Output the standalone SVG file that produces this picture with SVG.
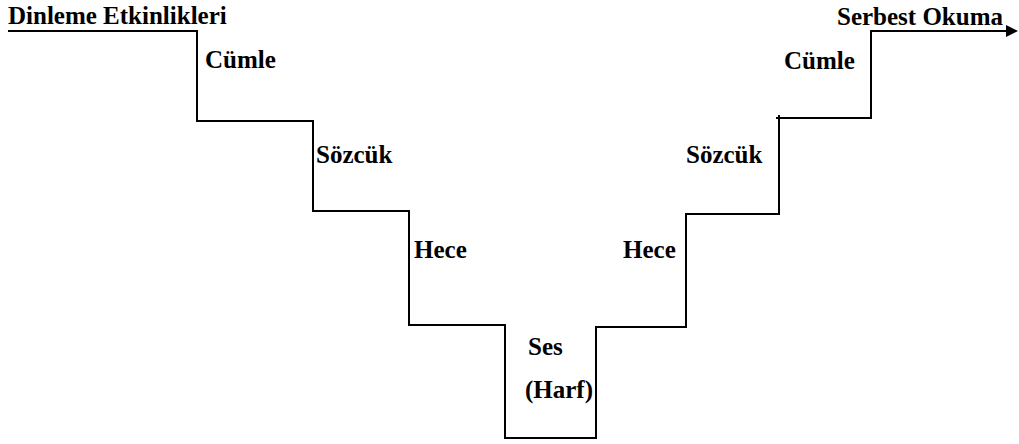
<svg xmlns="http://www.w3.org/2000/svg" width="1019" height="444" viewBox="0 0 1019 444">
<style>
.t{font-family:"Liberation Serif","Times New Roman",serif;font-weight:bold;font-size:25px;fill:#000}
.ln{fill:none;stroke:#000;stroke-width:2}
</style>
<defs>
<marker id="ah" viewBox="0 0 10 10" refX="0" refY="5" markerWidth="12" markerHeight="12" markerUnits="userSpaceOnUse" orient="auto">
<path d="M0,0 L10,5 L0,10 Z" fill="#000"/>
</marker>
</defs>
<rect width="1019" height="444" fill="#fff"/>
<g id="connectors">
<path class="ln" d="M8,31 H197 V121 H313 V211 H409 V325 H505 V438 H596 V327 H686 V214 H779 V115"/>
<path class="ln" d="M776,118 H871 V31 H1006" marker-end="url(#ah)"/>
</g>
<g id="start"><text class="t" x="8" y="24">Dinleme Etkinlikleri</text></g>
<g id="cumle-left"><text class="t" x="205" y="68">Cümle</text></g>
<g id="sozcuk-left"><text class="t" x="316" y="163">Sözcük</text></g>
<g id="hece-left"><text class="t" x="414" y="258">Hece</text></g>
<g id="ses"><text class="t" x="528" y="355">Ses</text><text class="t" x="525" y="398">(Harf)</text></g>
<g id="hece-right"><text class="t" x="623" y="258">Hece</text></g>
<g id="sozcuk-right"><text class="t" x="686" y="163">Sözcük</text></g>
<g id="cumle-right"><text class="t" x="784" y="69">Cümle</text></g>
<g id="end"><text class="t" x="837" y="25">Serbest Okuma</text></g>
</svg>
